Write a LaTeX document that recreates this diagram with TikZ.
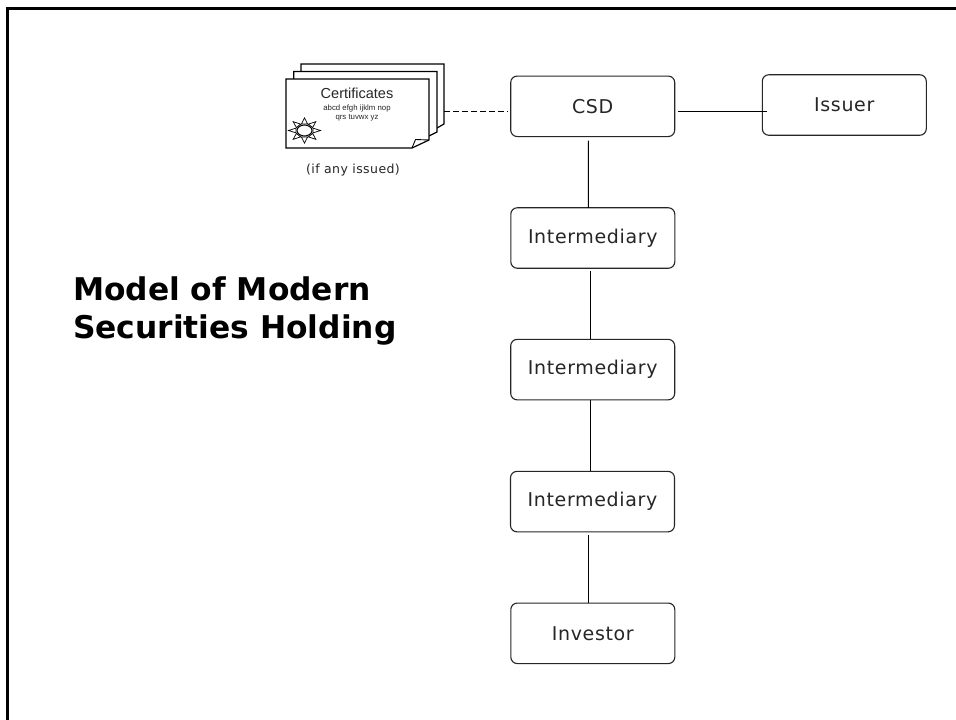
\documentclass[tikz,border=0pt]{standalone}
\usepackage{fontspec}
\usetikzlibrary{calc}
\setmainfont{DejaVu Sans}
\newfontfamily\arialfont{Liberation Sans}
\newfontfamily\widefont[LetterSpace=3.4]{DejaVu Sans}
\newcommand{\fsz}[1]{\fontsize{#1}{#1}\selectfont}
\tikzset{
  every node/.style={inner sep=0pt,outer sep=0pt},
  boxnode/.style={draw=black!85,line width=1.1pt,rounded corners=6.5pt,fill=white,minimum width=164pt,minimum height=60.5pt,font=\widefont\fsz{19},text=black!85},
  link/.style={draw=black,line width=1pt},
  pagesheet/.style={draw=black,line width=1.2pt,fill=white,line join=miter},
  spike/.style={draw=black,line width=0.7pt,fill=white}
}
\begin{document}
\begin{tikzpicture}[x=1pt,y=-1pt]
\useasboundingbox (0,0) rectangle (956,720);
\fill[white] (0,0) rectangle (956,720);
\draw[line width=3pt] (7.5,720) -- (7.5,8.7) -- (956,8.7);
% boxes
\node[boxnode] (csd) at (592.7,106.3) {CSD};
\node[boxnode] (issuer) at (844.3,105) {Issuer};
\node[boxnode] (im1) at (592.8,238) {Intermediary};
\node[boxnode] (im2) at (592.7,369.6) {Intermediary};
\node[boxnode] (im3) at (592.5,501.6) {Intermediary};
\node[boxnode] (inv) at (592.8,633.3) {Investor};
% certificates
\draw[pagesheet] (301,64) -- (444,64) -- (444,124) -- (437,128) -- (301,128) -- cycle;
\draw[pagesheet] (293.7,71.5) -- (437,71.5) -- (437,132) -- (429,136) -- (293.7,136) -- cycle;
\draw[pagesheet] (286,79) -- (429,79) -- (429,140) -- (412,148) -- (286,148) -- cycle;
\coordinate (pageedge) at (444,111.3);
\draw[line width=0.9pt] (412,148) -- (415.5,139.5) -- (429,140);
% sun
\foreach \a in {0,45,...,315}{
  \draw[spike] ($(304.5,130.5)+(\a+20:9 and 7)$) -- ($(304.5,130.5)+(\a:16 and 12.5)$) -- ($(304.5,130.5)+(\a-20:9 and 7)$) -- cycle;
}
\draw[line width=1pt,fill=white] (304.5,130.5) ellipse (7.5 and 5.5);
\node[font=\arialfont\fsz{14.5},anchor=center,text=black!85] (certtitle) at (357,93) {Certificates};
\node[font=\arialfont\fsz{7.8},anchor=center,text=black!85] (certa) at (357,108.5) {abcd efgh ijklm nop};
\node[font=\arialfont\fsz{7.8},anchor=center,text=black!85] (certb) at (357,117.5) {qrs tuvwx yz};
\node[font=\widefont\fsz{12.5},anchor=center,text=black!85] (ifany) at (353,170) {(if any issued)};
\node[font=\bfseries\fsz{31.3},anchor=base west,align=left] (t1) at (73,300) {Model of Modern};
\node[font=\bfseries\fsz{31.3},anchor=base west,align=left] (t2) at (73,338) {Securities Holding};
% connectors
\draw[link] ([xshift=-4.4pt,yshift=-4pt]csd.south) -- ([xshift=-4.4pt]im1.north);
\draw[link] ([xshift=-2.5pt,yshift=-3pt]im1.south) -- ([xshift=-2.4pt]im2.north);
\draw[link] ([xshift=-2.4pt]im2.south) -- ([xshift=-2.2pt]im3.north);
\draw[link] ([xshift=-4.2pt,yshift=-3pt]im3.south) -- ([xshift=-4.5pt]inv.north);
\draw[link] ([xshift=3.3pt,yshift=-5pt]csd.east) -- ([xshift=4.4pt,yshift=-6.3pt]issuer.west);
\draw[link,line width=1.2pt,dash pattern=on 5.5pt off 3.5pt] (pageedge) -- ([xshift=-3pt]csd.west |- pageedge);
\end{tikzpicture}
\end{document}
